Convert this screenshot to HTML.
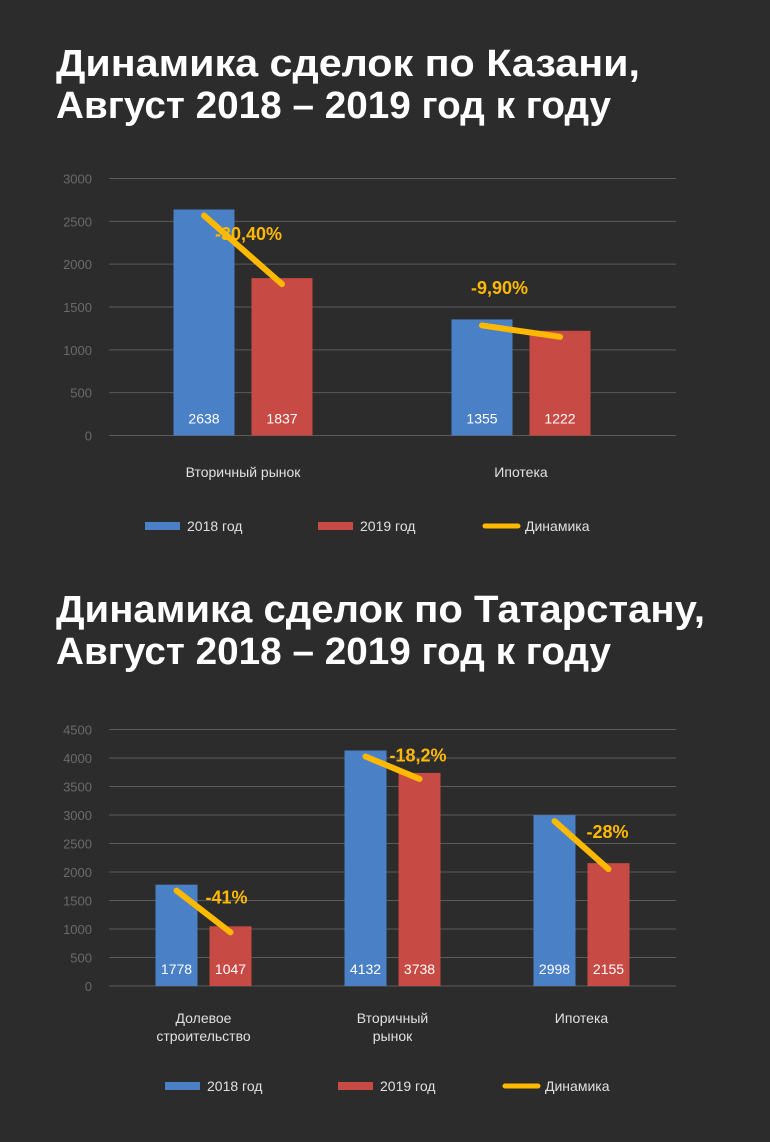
<!DOCTYPE html>
<html><head><meta charset="utf-8"><style>
html,body{margin:0;padding:0;background:#2c2c2c;}
svg{display:block;font-family:"Liberation Sans",sans-serif;}
</style></head><body>
<svg id="s" width="770" height="1142" xmlns="http://www.w3.org/2000/svg">
<rect width="770" height="1142" fill="#2c2c2c"/>
<text x="56" y="76" font-size="38" font-weight="bold" fill="#fff" textLength="584" lengthAdjust="spacingAndGlyphs">Динамика сделок по Казани,</text>
<text x="56" y="118" font-size="38" font-weight="bold" fill="#fff" textLength="555" lengthAdjust="spacingAndGlyphs">Август 2018 – 2019 год к году</text>
<text x="56" y="622" font-size="38" font-weight="bold" fill="#fff" textLength="649" lengthAdjust="spacingAndGlyphs">Динамика сделок по Татарстану,</text>
<text x="56" y="664" font-size="38" font-weight="bold" fill="#fff" textLength="555" lengthAdjust="spacingAndGlyphs">Август 2018 – 2019 год к году</text>
<g id="c1"></g><g id="c2"></g>
</svg>
<script>
const c1Categories = [["Вторичный рынок"], ["Ипотека"]];
const c1Values2018 = [2638, 1355];
const c1Values2019 = [1837, 1222];
const c1Changes = ["-30,40%", "-9,90%"];
const c1Ticks = [0, 500, 1000, 1500, 2000, 2500, 3000];

const c2Categories = [["Долевое", "строительство"], ["Вторичный", "рынок"], ["Ипотека"]];
const c2Values2018 = [1778, 4132, 2998];
const c2Values2019 = [1047, 3738, 2155];
const c2Changes = ["-41%", "-18,2%", "-28%"];
const c2Ticks = [0, 500, 1000, 1500, 2000, 2500, 3000, 3500, 4000, 4500];

const NS = "http://www.w3.org/2000/svg";
function mk(parent, tag, attrs, text) {
  const e = document.createElementNS(NS, tag);
  for (const k in attrs) e.setAttribute(k, attrs[k]);
  if (text !== undefined) e.textContent = text;
  parent.appendChild(e);
  return e;
}

function drawChart(g, cfg) {
  const { cats, v1, v2, changes, ticks, y0, yTopPx, gx0, gx1, bx0, bx1, barW, gap, catY, legY, legX, labelDX, labelDY } = cfg;
  const maxT = ticks[ticks.length - 1];
  const y = v => y0 - (v / maxT) * (y0 - yTopPx);
  const band = (bx1 - bx0) / cats.length;
  const cx = i => bx0 + band * (i + 0.5);
  ticks.forEach(t => {
    const l = mk(g, "line", { x1: gx0, x2: gx1, y1: y(t), y2: y(t), stroke: "#5a5a5a", "stroke-width": 1 });
    
    
    const tx = mk(g, "text", { x: 92, y: y(t) + 5, "text-anchor": "end", "font-size": 13, fill: "#6a6a6a" }, String(t));
    
    
  });
  cats.forEach((c, i) => {
    const xa = cx(i) - gap / 2 - barW, xb = cx(i) + gap / 2;
    const b1 = mk(g, "rect", { x: xa, y: y(v1[i]), width: barW, height: y0 - y(v1[i]), fill: "#4a80c6" });
    
    
    const b2 = mk(g, "rect", { x: xb, y: y(v2[i]), width: barW, height: y0 - y(v2[i]), fill: "#c84a44" });
    
    
    const t1 = mk(g, "text", { x: xa + barW / 2, y: y0 - 12, "text-anchor": "middle", "font-size": 14, fill: "#fff" }, String(v1[i]));
    
    
    const t2 = mk(g, "text", { x: xb + barW / 2, y: y0 - 12, "text-anchor": "middle", "font-size": 14, fill: "#fff" }, String(v2[i]));
    
    
    const ln = mk(g, "line", { x1: xa + barW / 2, y1: y(v1[i]) + 6, x2: xb + barW / 2, y2: y(v2[i]) + 6, stroke: "#ffb900", "stroke-width": 6, "stroke-linecap": "round" });
    
    
    const mx = (xa + xb + barW) / 2, my = (y(v1[i]) + y(v2[i])) / 2;
    const ct = mk(g, "text", { x: mx + labelDX[i], y: my + labelDY[i], "text-anchor": "start", "font-size": 18, "font-weight": "bold", fill: "#ffb900" }, changes[i]);
    
    
    c.forEach((line, j) => {
      const cl = mk(g, "text", { x: cx(i), y: catY + j * 18, "text-anchor": "middle", "font-size": 14, fill: "#e0e0e0" }, line);
      
      
    });
  });
  const lg = [["rect", "#4a80c6", "2018 год"], ["rect", "#c84a44", "2019 год"], ["line", "#ffb900", "Динамика"]];
  lg.forEach((L, k) => {
    const x = legX[k];
    let sw;
    if (L[0] === "rect") sw = mk(g, "rect", { x: x, y: legY - 4, width: 35, height: 8, fill: L[1] });
    else sw = mk(g, "line", { x1: x + 2, x2: x + 35, y1: legY, y2: legY, stroke: L[1], "stroke-width": 5, "stroke-linecap": "round" });
    
    
    const lt = mk(g, "text", { x: x + 42, y: legY + 5, "font-size": 14, fill: "#e0e0e0" }, L[2]);
    
    
  });
}

drawChart(document.getElementById("c1"), {
  cats: c1Categories, v1: c1Values2018, v2: c1Values2019, changes: c1Changes, ticks: c1Ticks,
  y0: 435.5, yTopPx: 178.5, gx0: 109, gx1: 676, bx0: 104, bx1: 660, barW: 61, gap: 17,
  catY: 477, legY: 526, legX: [145, 318, 483], labelDX: [-28, -50], labelDY: [-4, -31]
});
drawChart(document.getElementById("c2"), {
  cats: c2Categories, v1: c2Values2018, v2: c2Values2019, changes: c2Changes, ticks: c2Ticks,
  y0: 986, yTopPx: 729.5, gx0: 109, gx1: 676, bx0: 109, bx1: 676, barW: 42, gap: 12,
  catY: 1023, legY: 1086, legX: [165, 338, 503], labelDX: [2, -3, 5], labelDY: [-2, 0, -1]
});
</script>
</body></html>
